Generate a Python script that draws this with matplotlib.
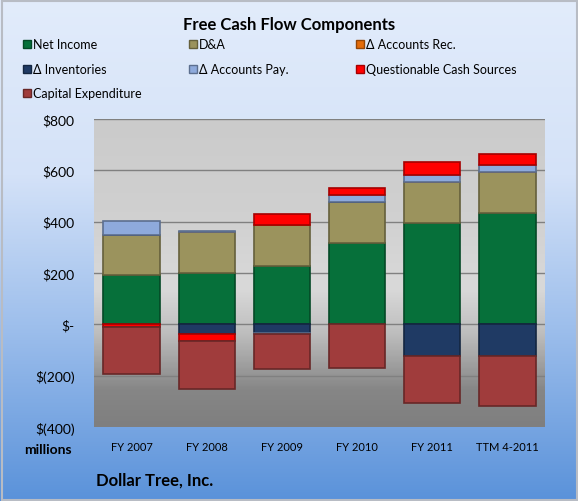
import numpy as np
import matplotlib.pyplot as plt
from matplotlib.colors import LinearSegmentedColormap, to_rgb
from matplotlib.patches import Rectangle

plt.rcParams['font.family'] = ['Lato', 'DejaVu Sans']

categories = ['FY 2007', 'FY 2008', 'FY 2009', 'FY 2010', 'FY 2011', 'TTM 4-2011']
net_income = [191, 199, 226, 315, 395, 433]
d_and_a = [158, 162, 161, 161, 161, 160]
accounts_rec = [0, 0, 0, 0, 0, 0]
inventories = [0, -36, -33, 0, -124, -124]
accounts_pay = [54, 2, -3, 26, 26, 26]
questionable = [-10, -29, 44, 31, 50, 44]
capex = [-183, -186, -137, -169, -182, -195]

series = [
    ('Net Income', net_income, '#06703a'),
    ('D&A', d_and_a, '#9b935d'),
    ('\u0394 Accounts Rec.', accounts_rec, '#e46c0a'),
    ('\u0394 Inventories', inventories, '#1f3a64'),
    ('\u0394 Accounts Pay.', accounts_pay, '#8eaadc'),
    ('Questionable Cash Sources', questionable, '#ff0000'),
    ('Capital Expenditure', capex, '#a03c3c'),
]
yticks = [-400, -200, 0, 200, 400, 600, 800]
ytick_labels = ['$(400)', '$(200)', '$-', '$200', '$400', '$600', '$800']


def darker(c, f=0.65):
    return tuple(v * f for v in to_rgb(c))


W, H = 578, 502
fig = plt.figure(figsize=(W / 100, H / 100), dpi=100)

# figure background gradient (pixel coordinates, y down)
bg = fig.add_axes([0, 0, 1, 1], zorder=-10)
bg_cmap = LinearSegmentedColormap.from_list(
    'bg', [(0, '#5a92da'), (0.35, '#9ebfec'), (0.65, '#d4e2f8'), (1, '#e2ecfb')])
bg.imshow(np.linspace(1, 0, 256).reshape(-1, 1), cmap=bg_cmap, aspect='auto',
          extent=[0, W, H, 0], origin='upper')
bg.add_patch(Rectangle((1.5, 1.5), W - 3, H - 3, fill=False,
                       edgecolor='#b8bcc4', lw=1.5))
bg.set_xlim(0, W)
bg.set_ylim(H, 0)
bg.axis('off')

ax = fig.add_axes([94 / W, 1 - 428 / H, 451 / W, 308 / H])
x = np.arange(len(categories))
ax.set_xlim(-0.5, len(categories) - 0.5)
ax.set_ylim(-400, 800)

plot_cmap = LinearSegmentedColormap.from_list(
    'plot', [(0, '#7f7f7f'), (0.12, '#868686'), (0.3, '#bdbdbd'),
             (0.45, '#d9d9d9'), (0.7, '#d0d0d0'), (1, '#cbcbcb')])
ax.imshow(np.linspace(0, 1, 256).reshape(-1, 1), cmap=plot_cmap, aspect='auto',
          extent=[-0.5, len(categories) - 0.5, -400, 800], origin='lower', zorder=0)

for yv in yticks:
    ax.axhline(yv, color='#808080', lw=1, zorder=1)

pos_bottom = np.zeros(len(categories))
neg_bottom = np.zeros(len(categories))
for label, vals, color in series:
    vals = np.array(vals, dtype=float)
    bottom = np.where(vals >= 0, pos_bottom, neg_bottom)
    ax.bar(x, vals, width=0.75, bottom=bottom, color=color,
           edgecolor=darker(color), linewidth=1.2, label=label, zorder=3)
    pos_bottom += np.where(vals > 0, vals, 0)
    neg_bottom += np.where(vals < 0, vals, 0)

ax.set_yticks(yticks)
ax.set_yticklabels(ytick_labels, fontsize=10)
ax.set_xticks(x)
ax.set_xticklabels(categories, fontsize=8)
ax.tick_params(axis='both', length=0, pad=10)
ax.tick_params(axis='y', pad=14)
for s in ax.spines.values():
    s.set_visible(False)

bg.text(W / 2, 25, 'Free Cash Flow Components', ha='center', va='center',
        fontsize=12, fontweight='bold')

# legend, filled row by row like the original
col_x = [23, 189, 356]
row_y = [45, 70, 94]
for i, (label, vals, color) in enumerate(series):
    cx = col_x[i % 3]
    cy = row_y[i // 3]
    bg.add_patch(Rectangle((cx, cy - 4), 8, 8, facecolor=color,
                           edgecolor=darker(color), lw=1))
    bg.text(cx + 10, cy, label, ha='left', va='center', fontsize=9)

bg.text(48, 450, 'millions', ha='center', va='center',
        fontsize=10, fontweight='bold')
bg.text(96, 481, 'Dollar Tree, Inc.', ha='left', va='center',
        fontsize=12, fontweight='bold')

fig.savefig('out.png', dpi=100)
